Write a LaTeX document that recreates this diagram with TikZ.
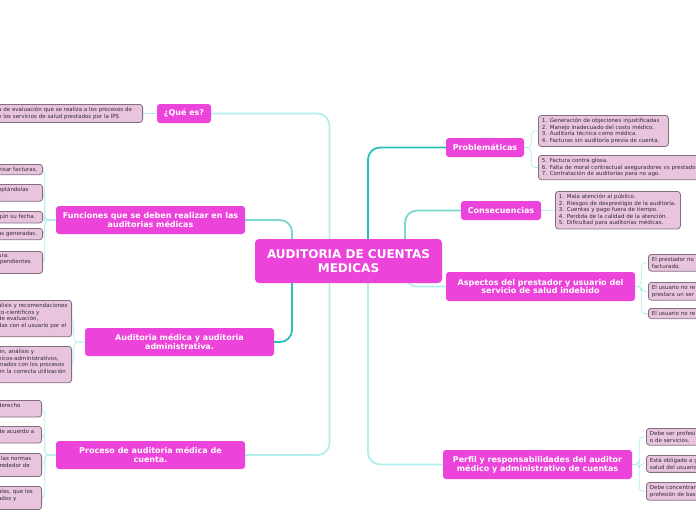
\documentclass[tikz,border=0pt]{standalone}
\usepackage{fontspec}
\setmainfont{DejaVu Sans}
\usetikzlibrary{backgrounds}

\definecolor{topicfill}{RGB}{236,68,218}
\definecolor{leaffill}{RGB}{232,196,222}
\definecolor{leafdraw}{RGB}{128,112,124}
\definecolor{leaftext}{RGB}{52,44,50}
\definecolor{linkdark}{RGB}{38,192,182}
\definecolor{linkmid}{RGB}{120,214,208}
\definecolor{linklight}{RGB}{178,238,236}
\definecolor{twigcol}{RGB}{176,236,236}

\begin{document}
\begin{tikzpicture}[
    x=1pt, y=-1pt,
    root/.style={
        fill=topicfill,
        rounded corners=4pt,
        text=white,
        align=center,
        minimum width=187pt,
        minimum height=44pt,
        font=\fontsize{12}{14}\selectfont\bfseries
    },
    topic/.style={
        fill=topicfill,
        rounded corners=3pt,
        text=white,
        align=center,
        minimum width=189pt,
        minimum height=28pt,
        inner xsep=2pt,
        font=\fontsize{8}{8.8}\selectfont\bfseries
    },
    leaf/.style={
        draw=leafdraw,
        fill=leaffill,
        line width=0.8pt,
        rounded corners=3pt,
        text=leaftext,
        align=left,
        inner xsep=3.5pt,
        inner ysep=3pt,
        font=\fontsize{5.5}{6.5}\selectfont
    },
    leafL/.style={leaf, anchor=north east, text width=#1},
    leafR/.style={leaf, anchor=north west, text width=#1},
    trunk/.style={line width=1.8pt, rounded corners=12pt, draw=#1},
    twig/.style={line width=0.7pt, rounded corners=4pt, draw=twigcol}
]
\useasboundingbox (0,0) rectangle (696,520);
\clip (0,0) rectangle (696,520);

% centro
\node[root] (root) at (348.5,261) {AUDITORIA DE CUENTAS\\MEDICAS};

% ramas izquierdas
\node[topic, minimum width=54pt, minimum height=19pt] (que) at (184,113.5) {¿Qué es?};
\node[topic] (funciones) at (150.5,220) {Funciones que se deben realizar en las\\auditorias médicas};
\node[topic] (auditoria) at (179.5,342) {Auditoria médica y auditoria\\administrativa.};
\node[topic] (proceso) at (150.5,455) {Proceso de auditoria médica de\\cuenta.};

% ramas derechas
\node[topic, minimum width=78pt, minimum height=19pt] (problemas) at (485,147.5) {Problemáticas};
\node[topic, minimum width=80pt, minimum height=19pt] (consec) at (501,210.5) {Consecuencias};
\node[topic, minimum height=29pt] (aspectos) at (540.5,286.5) {Aspectos del prestador y usuario del\\servicio de salud indebido};
\node[topic, minimum height=29pt] (perfil) at (537.5,464.5) {Perfil y responsabilidades del auditor\\médico y administrativo de cuentas};

% hojas: que es
\node[leafL=141pt] (que1) at (143,104) {a de evaluación que se realiza a los procesos de\\e los servicios de salud prestados por la IPS};

% hojas: funciones
\node[leafL=41pt] (fun1) at (43,164) {visar facturas.};
\node[leafL=41pt] (fun2) at (43,184) {eptándolas\\~};
\node[leafL=41pt] (fun3) at (43,211) {gún su fecha.};
\node[leafL=41pt] (fun4) at (43,228) {as generadas.};
\node[leafL=41pt] (fun5) at (43,251) {ura:\\\hspace*{2pt}pendientes\\~};

% hojas: auditoria
\node[leafL=70pt] (aud1) at (72,300) {álisis y recomendaciones\\co-científicos y\\de evaluación,\\das con el usuario por el\\~};
\node[leafL=70pt] (aud2) at (72,346) {ón, análisis y\\nicos-administrativos,\\-nados con los procesos\\en la correcta utilización\\~};

% hojas: proceso
\node[leafL=40pt] (proc1) at (42,400) {derecho\\~};
\node[leafL=40pt] (proc2) at (42,426) {de acuerdo a\\~};
\node[leafL=40pt] (proc3) at (42,453) {\hspace*{3pt}las normas\\lrededor de\\~};
\node[leafL=40pt] (proc4) at (42,486) {ales, que los\\ados y\\~};

% hojas: problematicas
\node[leafR=123pt] (prob1) at (538,115) {1. Generación de objeciones injustificadas\\2. Manejo inadecuado del costo médico.\\3. Auditoría técnica como médica.\\4. Facturas sin auditoría previa de cuenta.};
\node[leafR=190pt] (prob2) at (538,155) {5. Factura contra glosa.\\6. Falta de moral contractual aseguradores vs prestadores\\7. Contratación de auditorias para no ago.};

% hojas: consecuencias
\node[leafR=118pt] (cons1) at (555,191) {1. Mala atención al público.\\2. Riesgos de desprestigio de la auditoría.\\3. Cuentas y pago fuera de tiempo.\\4. Perdida de la calidad de la atención.\\5. Dificultad para auditorías médicas.};

% hojas: aspectos
\node[leafR=80pt] (asp1) at (648,254) {El prestador no\\facturado.};
\node[leafR=80pt] (asp2) at (648,282) {El usuario no re\\prestara un ser};
\node[leafR=80pt] (asp3) at (648,308) {El usuario no re};

% hojas: perfil
\node[leafR=80pt] (per1) at (646,428) {Debe ser profesi\\o de servicios.};
\node[leafR=80pt] (per2) at (646,455) {Está obligado a g\\salud del usuario};
\node[leafR=80pt] (per3) at (646,482) {Debe concentrar\\profesión de bas};

\begin{scope}[on background layer]
    % tronco
    \draw[trunk=linklight] ([xshift=-19pt]root.center) |- (que.east);
    \draw[trunk=linklight] ([xshift=-19pt]root.center) |- (proceso.east);
    \draw[trunk=linkmid] ([xshift=-56.5pt]root.center) |- (funciones.east);
    \draw[trunk=linkdark] ([xshift=-56.5pt]root.center) |- (auditoria.east);
    \draw[trunk=linkdark] ([xshift=19.5pt]root.center) |- (problemas.west);
    \draw[trunk=linklight] ([xshift=19.5pt]root.center) |- (perfil.west);
    \draw[trunk=linkmid] ([xshift=56.5pt]root.center) |- (consec.west);
    \draw[trunk=linklight] ([xshift=56.5pt]root.center) |- (aspectos.west);
    % ramitas
    \draw[twig] (que.west) -- (que1.east);
    \foreach \i in {1,...,5} \draw[twig] (funciones.west) -- ++(-11,0) |- (fun\i.east);
    \foreach \i in {1,2} \draw[twig] (auditoria.west) -- ++(-11,0) |- (aud\i.east);
    \foreach \i in {1,...,4} \draw[twig] (proceso.west) -- ++(-11,0) |- (proc\i.east);
    \foreach \i in {1,2} \draw[twig] (problemas.east) -- ++(7,0) |- (prob\i.west);
    \draw[twig] (consec.east) -- (cons1.west);
    \foreach \i in {1,2,3} \draw[twig] (aspectos.east) -- ++(6,0) |- (asp\i.west);
    \foreach \i in {1,2,3} \draw[twig] (perfil.east) -- ++(7,0) |- (per\i.west);
\end{scope}

\end{tikzpicture}
\end{document}
